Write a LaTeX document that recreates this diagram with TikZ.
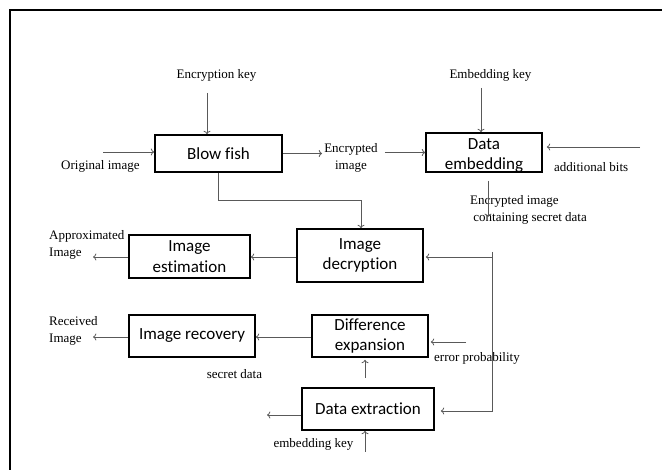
\documentclass[tikz,border=0pt]{standalone}
\usepackage{fontspec}
\setmainfont{Liberation Serif}
\newfontfamily\boxfont[Ligatures=NoCommon]{Carlito}
\usepackage{tikz}
\usetikzlibrary{arrows.meta,calc,positioning}

\tikzset{
  blk/.style={draw=black, line width=1.6pt, inner sep=0pt, align=center,
    font=\boxfont\fontsize{17}{20.6}\selectfont},
  lbl/.style={inner sep=0pt, align=center, font=\fontsize{13}{17.5}\selectfont},
  arr/.style={->, draw=black!65, line width=0.8pt},
}

\begin{document}
\begin{tikzpicture}[x=1pt,y=-1pt]
      \useasboundingbox (0,0) rectangle (662,470);
      % frame
      \draw[line width=1.2pt] (662,10) -- (10,10) -- (10,470);
      % blocks
      \node[blk, minimum width=127pt, minimum height=37pt] (blowfish) at (218.5,153.5) {Blow fish};
      \node[blk, minimum width=116pt, minimum height=39pt] (embed) at (484,152.5) {};
      \node[inner sep=0pt, align=center, font=\boxfont\fontsize{17}{19.5}\selectfont] (embedtxt) at ($(embed.center)+(0,3)$) {Data\\embedding};
      \node[blk, minimum width=126pt, minimum height=53pt] (decrypt) at (360,255.5) {Image\\decryption};
      \node[blk, minimum width=121pt, minimum height=43pt] (estim) at (189.5,256.5) {Image\\estimation};
      \node[blk, minimum width=126pt, minimum height=42pt] (recov) at (192,336) {Image recovery};
      \node[blk, minimum width=116pt, minimum height=42pt] (diffexp) at (370,336) {Difference\\expansion};
      \node[blk, minimum width=132pt, minimum height=42pt] (extract) at (368,409) {Data extraction};
      % labels
      \node[lbl] (enckey) at (216.5,75) {Encryption key};
      \node[lbl, anchor=west] (origimg) at (61,166) {Original image};
      \node[lbl] (encimg) at (351,158) {Encrypted\\image};
      \node[lbl] (embkey) at (490.5,75) {Embedding key};
      \node[lbl, anchor=west] (addbits) at (554,167) {additional bits};
      \node[lbl, anchor=west, align=left] (encsec) at (470,210) {Encrypted image\\\ containing secret data};
      \node[lbl, anchor=west, align=left] (approx) at (49,245) {Approximated\\Image};
      \node[lbl, anchor=west, align=left] (recvd) at (49,331) {Received\\Image};
      \node[lbl, anchor=west] (errprob) at (434,358) {error probability};
      \node[lbl] (secdata) at (234.5,374) {secret data};
      \node[lbl] (embkey2) at (313.5,444) {embedding key};
      % free ends
      \coordinate (enckeyend) at (207,93);
      \coordinate (origend) at (103,152);
      \coordinate (embkeyend) at (481,88);
      \coordinate (addend) at (640,147);
      \coordinate (encsecend) at (488,217);
      \coordinate (fb) at (492,252);
      \coordinate (approxend) at (93,257);
      \coordinate (recvdend) at (93,337);
      \coordinate (errend) at (466,342);
      \coordinate (secend) at (365,378);
      \coordinate (sdout) at (267,415);
      \coordinate (embkey2end) at (365,452);
      % upper row
      \draw[arr] (enckeyend) -- (enckeyend |- blowfish.north);
      \draw[arr] (origend) -- (origend -| blowfish.west);
      \draw[arr] (blowfish.east) -- ($(blowfish.east -| encimg.west)+(-2,0)$);
      \draw[arr] ($(encimg.east |- embed.west)+(7,0)$) -- (embed.west);
      \draw[arr] (embkeyend) -- (embkeyend |- embed.north);
      \draw[arr] (addend) -- ($(addend -| embed.east)+(4,0)$);
      \draw[arr] ($(encsecend |- embed.south)+(0,8)$) -- (encsecend);
      % to decryption
      \draw[arr] (blowfish.south -| 218,0) -- (218,200) -- (361,200) -- (361,0 |- decrypt.north);
      \draw[arr] (fb) ++(0,5) -- ($(decrypt.east |- 0,257)+(2,0)$);
      \draw[arr] (fb) |- ($(extract.east |- 0,411)+(6,0)$);
      % lower rows
      \draw[arr] (decrypt.west |- 0,257) -- (estim.east |- 0,257);
      \draw[arr] (estim.west |- approxend) -- (approxend);
      \draw[arr] (diffexp.west |- recvdend) -- (recov.east |- recvdend);
      \draw[arr] (recov.west |- recvdend) -- (recvdend);
      \draw[arr] (errend) -- ($(errend -| diffexp.east)+(2,0)$);
      \draw[arr] (secend) -- ($(secend |- diffexp.south)+(0,2)$);
      \draw[arr] (extract.west |- sdout) -- (sdout);
      \draw[arr] (embkey2end) -- (embkey2end |- extract.south);
\end{tikzpicture}
\end{document}
